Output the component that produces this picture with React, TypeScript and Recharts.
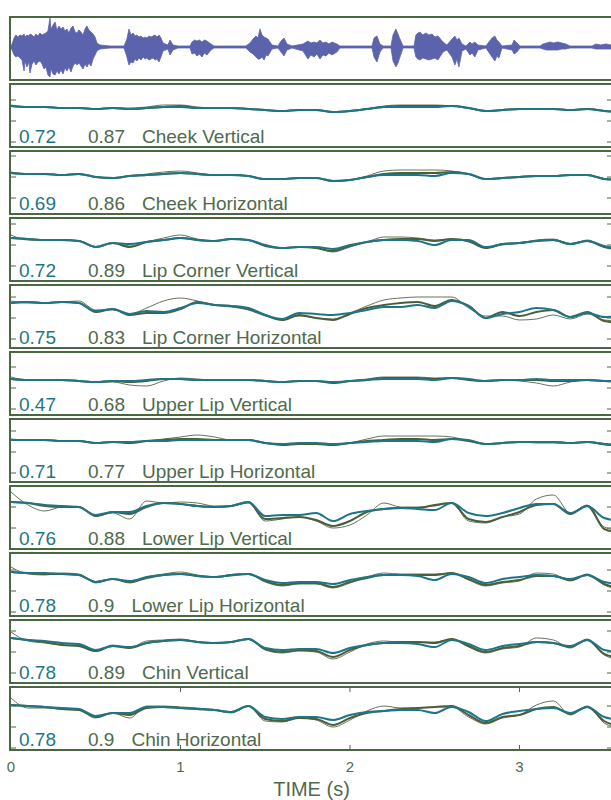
import { LineChart, Line, XAxis, YAxis, AreaChart, Area, Label } from 'recharts'

// time grid of the articulator traces (s)
const TIME = [
  0, 0.1, 0.2, 0.3, 0.4, 0.5, 0.6, 0.7, 0.8, 0.9, 1.0, 1.1, 1.2, 1.3, 1.4, 1.5, 1.6, 1.7, 1.8,
  1.9, 2.0, 2.1, 2.2, 2.3, 2.4, 2.5, 2.6, 2.7, 2.8, 2.9, 3.0, 3.1, 3.2, 3.3, 3.4, 3.5, 3.6,
]
const T_END = 3.546
const X_TICKS = [0, 1, 2, 3]
const Y_TICKS = [-21, 0, 21]

// speech waveform envelope: [time, upper, lower]
const WAVE = [
  [0, 1, -1], [0.006, 3, -3], [0.018, 9, -8], [0.029, 12, -10], [0.041, 10, -9], [0.053, 12, -11],
  [0.065, 11, -13], [0.077, 13, -24], [0.083, 10, -14], [0.094, 12, -20], [0.106, 11, -15],
  [0.112, 13, -26], [0.124, 12, -17], [0.136, 10, -14], [0.147, 13, -18], [0.159, 11, -15],
  [0.171, 14, -14], [0.183, 12, -17], [0.195, 13, -22], [0.206, 14, -20], [0.218, 16, -28],
  [0.23, 29, -30], [0.236, 18, -22], [0.248, 22, -27], [0.26, 25, -28], [0.271, 17, -24],
  [0.283, 21, -27], [0.295, 18, -23], [0.307, 20, -27], [0.319, 16, -21], [0.33, 18, -24],
  [0.342, 14, -20], [0.354, 19, -25], [0.366, 21, -19], [0.378, 15, -16], [0.389, 14, -18],
  [0.401, 17, -16], [0.413, 15, -19], [0.425, 12, -22], [0.437, 18, -17], [0.448, 21, -20],
  [0.46, 17, -16], [0.472, 15, -19], [0.484, 13, -12], [0.496, 10, -8], [0.507, 4, -4],
  [0.525, 2, -2], [0.584, 1, -1], [0.667, 1, -1], [0.684, 8, -10], [0.696, 18, -18], [0.708, 12, -15],
  [0.72, 14, -16], [0.732, 11, -12], [0.743, 12, -14], [0.755, 10, -11], [0.767, 11, -13],
  [0.779, 9, -10], [0.791, 10, -12], [0.802, 9, -11], [0.814, 11, -13], [0.826, 10, -12],
  [0.838, 11, -11], [0.85, 12, -13], [0.861, 10, -12], [0.873, 12, -15], [0.885, 9, -10],
  [0.897, 4, -4], [0.926, 2, -2], [0.938, 7, -8], [0.956, 2, -3],
  [0.985, 1, -1], [1.056, 1, -1], [1.068, 5, -7], [1.083, 7, -6], [1.097, 6, -9], [1.112, 7, -7],
  [1.127, 5, -10], [1.141, 7, -6], [1.156, 6, -8], [1.18, 3, -3], [1.198, 1, -1], [1.386, 1, -1],
  [1.41, 4, -5], [1.428, 8, -7], [1.445, 11, -10], [1.457, 9, -12], [1.469, 18, -12], [1.481, 12, -10],
  [1.493, 10, -13], [1.505, 9, -8], [1.516, 8, -9], [1.54, 2, -2], [1.575, 1, -1], [1.593, 6, -5],
  [1.611, 9, -9], [1.628, 3, -3], [1.658, 1, -1], [1.723, 3, -4], [1.752, 6, -12], [1.77, 4, -8],
  [1.788, 5, -10], [1.805, 4, -7], [1.823, 7, -12], [1.84, 4, -8], [1.858, 5, -9], [1.876, 3, -6],
  [1.894, 5, -8], [1.923, 3, -5], [1.941, 1, -1], [2.13, 1, -1], [2.142, 9, -10], [2.159, 11, -15],
  [2.177, 3, -5], [2.195, 1, -1], [2.242, 1, -1], [2.254, 12, -14], [2.271, 18, -20], [2.283, 13, -16],
  [2.295, 8, -10], [2.313, 1, -1], [2.378, 1, -1], [2.389, 12, -10], [2.401, 14, -12], [2.413, 15, -13],
  [2.43, 12, -11], [2.448, 14, -12], [2.466, 12, -13], [2.484, 13, -12], [2.501, 10, -11],
  [2.519, 11, -13], [2.549, 5, -5], [2.572, 2, -3], [2.602, 8, -10], [2.619, 11, -18], [2.631, 7, -12],
  [2.643, 9, -20], [2.661, 3, -4], [2.684, 1, -2], [2.708, 5, -8], [2.72, 3, -6], [2.737, 5, -10],
  [2.755, 2, -3], [2.802, 1, -1], [2.838, 9, -10], [2.855, 11, -14], [2.867, 7, -9], [2.879, 5, -11],
  [2.897, 1, -1], [2.956, 2, -3], [2.968, 7, -7], [2.985, 4, -5], [3.003, 1, -1], [3.121, 1, -1],
  [3.139, 3, -2], [3.16, 4, -3], [3.18, 5, -3], [3.2, 4, -3], [3.227, 5, -3], [3.25, 4, -2],
  [3.274, 3, -2], [3.298, 1, -1], [3.428, 1, -1], [3.451, 3, -2], [3.48, 2, -2], [3.51, 3, -2],
  [3.54, 2, -2], [3.59, 1, -1],
]

// per channel: estimated (teal), measured (thick) and second measurement (thin)
const cheekVertEst = [15, 14, 14, 13, 13, 12, 13, 12, 13, 14, 14, 13, 13, 13, 12, 11, 10, 11, 11, 9, 10, 12, 14, 14, 14, 14, 15, 13, 10, 11, 12, 12, 12, 11, 12, 10, 9]
const cheekVertMeas = [15, 14, 14, 13, 13, 12, 13, 12, 13, 14, 15, 13, 13, 13, 12, 11, 10, 11, 11, 9, 10, 12, 14, 15, 15, 15, 15, 13, 10, 11, 12, 12, 12, 11, 12, 10, 9]
const cheekVertRaw = [16, 14, 14, 13, 13, 12, 13, 13, 14, 16, 16, 14, 13, 13, 12, 11, 10, 11, 11, 9, 10, 12, 15, 16, 16, 16, 15, 13, 10, 11, 12, 12, 12, 11, 12, 10, 9]

const cheekHorzEst = [4, 3, 3, 2, 3, 0, -1, 1, 2, 3, 4, 3, 2, 2, 1, -2, -2, -1, -1, -4, -3, 0, 2, 2, 2, 1, 4, 3, -2, -1, 0, 1, 1, 2, 2, -2, -3]
const cheekHorzMeas = [4, 3, 3, 2, 3, 0, -1, 1, 2, 3, 4, 3, 2, 2, 1, -2, -2, -1, -1, -4, -3, 0, 3, 4, 4, 4, 5, 3, -2, -1, 0, 1, 1, 2, 2, -2, -3]
const cheekHorzRaw = [5, 3, 3, 2, 3, 0, -1, 1, 3, 5, 6, 4, 2, 2, 1, -2, -2, -1, -1, -4, -3, 1, 6, 7, 7, 7, 6, 3, -2, -1, 0, 1, 1, 2, 2, -2, -3]

const lipCornerVertEst = [7, 6, 5, 5, 4, -2, 2, 1, 3, 5, 7, 5, 4, 6, 5, 0, -3, -2, -2, -4, 0, 3, 5, 5, 4, 0, 5, 5, -2, 1, 2, 4, 5, 1, 4, -1, -4]
const lipCornerVertMeas = [7, 6, 5, 5, 4, -2, 2, -2, 3, 5, 7, 5, 4, 6, 5, -1, -3, -2, -3, -6, -1, 3, 5, 6, 6, 4, 6, 4, -3, 1, 2, 4, 5, 1, 4, -2, -5]
const lipCornerVertRaw = [10, 5, 5, 5, 4, -2, 2, -1, 3, 7, 10, 6, 4, 6, 5, -1, -3, -2, -3, -7, -2, 3, 8, 8, 7, 5, 6, 3, -3, 0, 2, 5, 6, 1, 5, -2, -5]

const lipCornerHorzEst = [15, 16, 15, 16, 15, 7, 9, 4, 7, 6, 10, 15, 13, 12, 10, 3, -1, 5, 4, 3, 5, 8, 11, 11, 13, 10, 17, 12, 0, 4, 6, 10, 8, 1, 5, 1, 2]
const lipCornerHorzMeas = [15, 16, 15, 16, 15, 6, 9, 3, 5, 5, 9, 16, 13, 12, 9, 3, -2, 3, 0, -2, 4, 10, 13, 15, 16, 12, 18, 12, 0, 6, 2, 6, 8, 1, 6, -3, -5]
const lipCornerHorzRaw = [17, 15, 15, 16, 17, 8, 8, 4, 10, 17, 20, 17, 13, 11, 8, 2, -2, 2, 0, -1, 5, 12, 18, 20, 21, 21, 21, 10, 2, 2, -2, -1, 3, -1, 4, -2, -3]

const upperLipVertEst = [9, 8, 8, 8, 7, 6, 7, 7, 8, 9, 9, 8, 8, 8, 8, 7, 6, 7, 7, 6, 7, 8, 9, 9, 9, 8, 10, 9, 7, 8, 8, 9, 8, 8, 8, 7, 7]
const upperLipVertMeas = [9, 8, 8, 8, 7, 6, 7, 6, 7, 9, 9, 8, 8, 8, 8, 7, 6, 7, 7, 5, 7, 8, 10, 10, 10, 9, 10, 8, 7, 8, 8, 8, 7, 7, 8, 7, 6]
const upperLipVertRaw = [11, 8, 8, 8, 7, 6, 6, 3, 2, 7, 10, 9, 8, 8, 8, 7, 6, 7, 7, 5, 7, 9, 11, 11, 11, 10, 10, 8, 7, 8, 7, 5, 2, 6, 8, 7, 6]

const upperLipHorzEst = [12, 12, 12, 11, 11, 9, 10, 10, 11, 11, 12, 12, 12, 12, 12, 9, 8, 9, 9, 8, 9, 10, 11, 11, 11, 10, 13, 12, 8, 9, 10, 10, 10, 9, 10, 8, 7]
const upperLipHorzMeas = [12, 12, 12, 11, 11, 9, 10, 9, 11, 12, 13, 13, 12, 12, 12, 9, 7, 8, 8, 7, 9, 11, 12, 13, 13, 12, 13, 11, 8, 9, 10, 10, 10, 9, 10, 8, 6]
const upperLipHorzRaw = [13, 12, 12, 11, 11, 9, 10, 9, 11, 13, 15, 17, 15, 12, 12, 9, 7, 8, 8, 7, 9, 13, 16, 16, 16, 16, 15, 11, 8, 9, 10, 9, 9, 9, 10, 7, 6]

const lowerLipVertEst = [5, 4, 2, 1, 0, -8, -5, -5, 1, 4, 3, 1, 0, 1, 5, -9, -8, -8, -6, -14, -7, -4, -2, -1, -2, -3, 4, -6, -9, -6, -1, 3, 3, -6, 1, -11, -14]
const lowerLipVertMeas = [5, 4, 1, 0, 0, -9, -5, -7, 0, 4, 3, 1, 0, 1, 5, -12, -11, -10, -13, -19, -14, -5, -2, -1, -1, 2, 4, -12, -15, -10, -5, 2, 3, -7, 1, -22, -26]
const lowerLipVertRaw = [15, 2, -4, 0, 0, -9, -6, -12, 6, 4, 5, 4, 1, 1, 4, -14, -12, -10, -14, -21, -18, -8, 4, 0, 0, 1, 4, -14, -16, -10, -7, 8, 12, -6, 2, -20, -24]

const lowerLipHorzEst = [19, 18, 18, 17, 16, 9, 12, 10, 14, 16, 17, 15, 14, 16, 17, 11, 8, 9, 9, 7, 11, 14, 16, 16, 15, 11, 17, 14, 8, 12, 14, 16, 15, 12, 16, 9, 7]
const lowerLipHorzMeas = [19, 18, 17, 17, 16, 9, 12, 9, 13, 16, 17, 15, 14, 16, 17, 10, 6, 8, 8, 4, 9, 13, 16, 16, 16, 16, 18, 12, 6, 9, 11, 15, 15, 11, 16, 7, 2]
const lowerLipHorzRaw = [24, 17, 16, 18, 17, 8, 12, 8, 14, 17, 19, 16, 14, 15, 17, 9, 5, 7, 7, 3, 8, 14, 18, 17, 17, 17, 18, 11, 5, 8, 10, 18, 17, 10, 17, 6, 1]

const chinVertEst = [14, 12, 11, 9, 8, 2, 6, 5, 9, 11, 12, 10, 9, 10, 13, 4, 2, 3, 3, -1, 4, 7, 9, 9, 8, 5, 12, 8, 2, 6, 8, 10, 9, 6, 12, 2, 0]
const chinVertMeas = [14, 12, 10, 7, 6, 1, 6, 4, 9, 11, 12, 10, 9, 10, 13, 3, 0, 2, 1, -5, 2, 7, 9, 10, 10, 9, 13, 6, 0, 4, 6, 10, 9, 5, 12, -2, -6]
const chinVertRaw = [20, 11, 9, 7, 7, 1, 7, 4, 11, 12, 13, 10, 9, 10, 13, 2, -1, 1, 0, -7, 0, 8, 11, 10, 10, 10, 13, 5, -1, 3, 5, 14, 12, 4, 13, -3, -8]

const chinHorzEst = [22, 21, 20, 19, 18, 11, 14, 14, 20, 20, 19, 18, 17, 15, 21, 10, 8, 10, 10, 7, 12, 15, 16, 17, 17, 14, 20, 15, 6, 13, 16, 18, 19, 14, 20, 10, 7]
const chinHorzMeas = [22, 21, 20, 18, 17, 10, 14, 12, 19, 20, 19, 18, 17, 15, 21, 8, 6, 9, 8, 2, 9, 14, 16, 18, 19, 20, 21, 12, 4, 10, 12, 18, 20, 13, 20, 6, 0]
const chinHorzRaw = [29, 19, 19, 18, 17, 9, 14, 9, 21, 21, 20, 19, 17, 14, 21, 6, 5, 9, 7, 0, 7, 16, 21, 19, 19, 20, 20, 10, 3, 9, 12, 22, 26, 12, 21, 4, -2]

// y limits of each panel (same units as the traces)
const PANELS = [
  { name: 'Cheek Vertical', r1: '0.72', r2: '0.87', ylim: [-25, 36], est: cheekVertEst, meas: cheekVertMeas, raw: cheekVertRaw },
  { name: 'Cheek Horizontal', r1: '0.69', r2: '0.86', ylim: [-36, 25], est: cheekHorzEst, meas: cheekHorzMeas, raw: cheekHorzRaw },
  { name: 'Lip Corner Vertical', r1: '0.72', r2: '0.89', ylim: [-35, 26], est: lipCornerVertEst, meas: lipCornerVertMeas, raw: lipCornerVertRaw },
  { name: 'Lip Corner Horizontal', r1: '0.75', r2: '0.83', ylim: [-29, 32], est: lipCornerHorzEst, meas: lipCornerHorzMeas, raw: lipCornerHorzRaw },
  { name: 'Upper Lip Vertical', r1: '0.47', r2: '0.68', ylim: [-26, 35], est: upperLipVertEst, meas: upperLipVertMeas, raw: upperLipVertRaw },
  { name: 'Upper Lip Horizontal', r1: '0.71', r2: '0.77', ylim: [-29, 32], est: upperLipHorzEst, meas: upperLipHorzMeas, raw: upperLipHorzRaw },
  { name: 'Lower Lip Vertical', r1: '0.76', r2: '0.88', ylim: [-41, 20], est: lowerLipVertEst, meas: lowerLipVertMeas, raw: lowerLipVertRaw },
  { name: 'Lower Lip Horizontal', r1: '0.78', r2: '0.9', ylim: [-24, 37], est: lowerLipHorzEst, meas: lowerLipHorzMeas, raw: lowerLipHorzRaw },
  { name: 'Chin Vertical', r1: '0.78', r2: '0.89', ylim: [-30, 31], est: chinVertEst, meas: chinVertMeas, raw: chinVertRaw },
  { name: 'Chin Horizontal', r1: '0.78', r2: '0.9', ylim: [-22, 39], est: chinHorzEst, meas: chinHorzMeas, raw: chinHorzRaw },
]

const FRAME = '#4a6643'
const TEXT = '#4f6a4c'
const TEAL = '#1d7687'
const DARK = '#4b5e3b'
const THIN = '#66735a'
const WAVE_COLOR = '#5c63ad'
const FONT = '"Liberation Sans", Arial, Helvetica, sans-serif'

const PLOT_W = 601
const PLOT_H = 61
const STEP = 67
const TOP = 16
const NONE = { top: 0, right: 0, bottom: 0, left: 0 }

const frameStyle = (top: number) => ({
  position: 'absolute' as const,
  left: 9,
  top,
  width: PLOT_W,
  height: PLOT_H,
  border: `2px solid ${FRAME}`,
  background: '#fff',
})

function WavePanel() {
  const rows = WAVE.map(([t, hi, lo]) => ({ t, range: [lo, hi] }))
  return (
    <div style={frameStyle(TOP)}>
      <AreaChart width={PLOT_W} height={PLOT_H} data={rows} margin={NONE}>
        <XAxis type="number" dataKey="t" domain={[0, T_END]} allowDataOverflow hide />
        <YAxis domain={[-32, 29]} allowDataOverflow hide />
        <Area
          type="linear"
          dataKey="range"
          stroke={WAVE_COLOR}
          strokeWidth={0.8}
          fill={WAVE_COLOR}
          fillOpacity={1}
          isAnimationActive={false}
        />
      </AreaChart>
    </div>
  )
}

function TracePanel({ panel, index, last }: { panel: any; index: number; last: boolean }) {
  const rows = TIME.map((t, i) => ({ t, est: panel.est[i], meas: panel.meas[i], raw: panel.raw[i] }))
  const top = TOP + STEP * (index + 1)
  const blank = () => ''
  return (
    <div style={frameStyle(top)}>
      <LineChart width={PLOT_W} height={PLOT_H} data={rows} margin={NONE}>
        <XAxis
          type="number"
          dataKey="t"
          domain={[0, T_END]}
          allowDataOverflow
          hide={!last}
          mirror
          ticks={[1, 2, 3]}
          axisLine={false}
          tickSize={4}
          tickFormatter={blank}
          stroke={FRAME}
        />
        {last && (
          <XAxis
            xAxisId="top"
            orientation="top"
            type="number"
            dataKey="t"
            domain={[0, T_END]}
            allowDataOverflow
            mirror
            ticks={[1, 2, 3]}
            axisLine={false}
            tickSize={4}
            tickFormatter={blank}
            stroke={FRAME}
          />
        )}
        <YAxis
          yAxisId="l"
          domain={panel.ylim}
          allowDataOverflow
          ticks={Y_TICKS}
          mirror
          axisLine={false}
          tickSize={5}
          tickFormatter={blank}
          stroke={FRAME}
        />
        <YAxis
          yAxisId="r"
          orientation="right"
          domain={panel.ylim}
          allowDataOverflow
          ticks={Y_TICKS}
          mirror
          axisLine={false}
          tickSize={5}
          tickFormatter={blank}
          stroke={FRAME}
        />
        <Line yAxisId="l" type="monotone" dataKey="raw" stroke={THIN} strokeWidth={1} dot={false} isAnimationActive={false} />
        <Line yAxisId="l" type="monotone" dataKey="meas" stroke={DARK} strokeWidth={2} dot={false} isAnimationActive={false} />
        <Line yAxisId="l" type="monotone" dataKey="est" stroke={TEAL} strokeWidth={2} dot={false} isAnimationActive={false} />
      </LineChart>
      <div
        style={{
          position: 'absolute',
          left: 8,
          top: 42,
          fontFamily: FONT,
          fontSize: 19,
          lineHeight: '19px',
          whiteSpace: 'nowrap',
          color: TEXT,
        }}
      >
        <span style={{ color: TEAL, position: 'absolute', left: 0 }}>{panel.r1}</span>
        <span style={{ position: 'absolute', left: 69 }}>
          {panel.r2}
          <span style={{ marginLeft: 17 }}>{panel.name}</span>
        </span>
      </div>
    </div>
  )
}

function TimeAxis() {
  const rows = TIME.map((t) => ({ t }))
  const bottom = TOP + STEP * PANELS.length + PLOT_H + 4
  return (
    <div style={{ position: 'absolute', left: 0, top: bottom - 9 }}>
      <LineChart width={PLOT_W + 21} height={58} data={rows} margin={{ top: 0, right: 10, bottom: 0, left: 11 }}>
        <XAxis
          type="number"
          dataKey="t"
          domain={[0, T_END]}
          allowDataOverflow
          ticks={X_TICKS}
          interval={0}
          height={49}
          axisLine={false}
          tickLine={false}
          tickSize={6}
          tickMargin={4}
          tick={{ fill: TEXT, fontSize: 15, fontFamily: FONT }}
        >
          <Label
            value="TIME (s)"
            position="insideBottom"
            offset={4}
            style={{ fill: TEXT, fontSize: 20, fontFamily: FONT }}
          />
        </XAxis>
        <YAxis hide />
      </LineChart>
    </div>
  )
}

export default function App() {
  return (
    <div
      style={{
        position: 'absolute',
        left: 0,
        top: 0,
        width: 611,
        height: 800,
        overflow: 'hidden',
        background: '#fff',
      }}
    >
      <WavePanel />
      {PANELS.map((p, i) => (
        <TracePanel key={p.name} panel={p} index={i} last={i === PANELS.length - 1} />
      ))}
      <TimeAxis />
    </div>
  )
}
